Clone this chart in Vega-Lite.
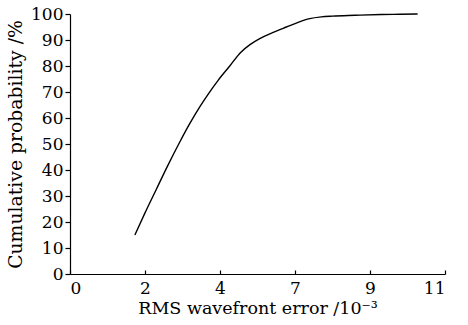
{
  "$schema": "https://vega.github.io/schema/vega-lite/v6.json",
  "width": 375,
  "height": 260,
  "autosize": "none",
  "padding": {"left": 70, "top": 14, "right": 23, "bottom": 51},
  "background": "white",
  "config": {
    "view": {"stroke": null},
    "font": "DejaVu Serif",
    "axis": {
      "grid": false,
      "domainColor": "black",
      "tickColor": "black",
      "labelColor": "black",
      "titleColor": "black",
      "labelFont": "DejaVu Serif",
      "titleFont": "DejaVu Serif",
      "labelFontSize": 17,
      "titleFontSize": 17.5,
      "titleFontWeight": "normal",
      "domainWidth": 1.2,
      "tickWidth": 1.2
    }
  },
  "data": {
    "values": [
      {"x": 1.73, "p": 15},
      {"x": 2.0, "p": 23.5},
      {"x": 2.3, "p": 32.5},
      {"x": 2.6, "p": 41.5},
      {"x": 2.9, "p": 50},
      {"x": 3.2, "p": 58},
      {"x": 3.46, "p": 64.3},
      {"x": 3.7, "p": 69.5},
      {"x": 3.95, "p": 74.5},
      {"x": 4.26, "p": 80},
      {"x": 4.55, "p": 85.2},
      {"x": 4.8, "p": 88.2},
      {"x": 5.06, "p": 90.5},
      {"x": 5.4, "p": 92.8},
      {"x": 5.77, "p": 95.0},
      {"x": 6.1, "p": 96.9},
      {"x": 6.39, "p": 98.2},
      {"x": 6.7, "p": 98.9},
      {"x": 7.0, "p": 99.2},
      {"x": 7.6, "p": 99.5},
      {"x": 8.3, "p": 99.8},
      {"x": 8.8, "p": 99.9},
      {"x": 9.27, "p": 100}
    ]
  },
  "mark": {"type": "line", "color": "black", "strokeWidth": 1.4, "interpolate": "monotone"},
  "encoding": {
    "x": {
      "field": "x",
      "type": "quantitative",
      "scale": {"domain": [0, 10], "nice": false},
      "axis": {
        "title": "RMS wavefront error /10⁻³",
        "values": [0, 2, 4, 6, 8, 10],
        "labelExpr": "datum.value == 6 ? '7' : datum.value == 8 ? '9' : datum.value == 10 ? '11' : datum.label",
        "tickSize": -4,
        "labelPadding": 10,
        "titlePadding": 3
      }
    },
    "y": {
      "field": "p",
      "type": "quantitative",
      "scale": {"domain": [0, 100], "nice": false},
      "axis": {
        "title": "Cumulative probability /%",
        "titleFontSize": 18.8,
        "values": [0, 10, 20, 30, 40, 50, 60, 70, 80, 90, 100],
        "tickSize": 5,
        "labelPadding": 2,
        "titlePadding": 5
      }
    }
  }
}
